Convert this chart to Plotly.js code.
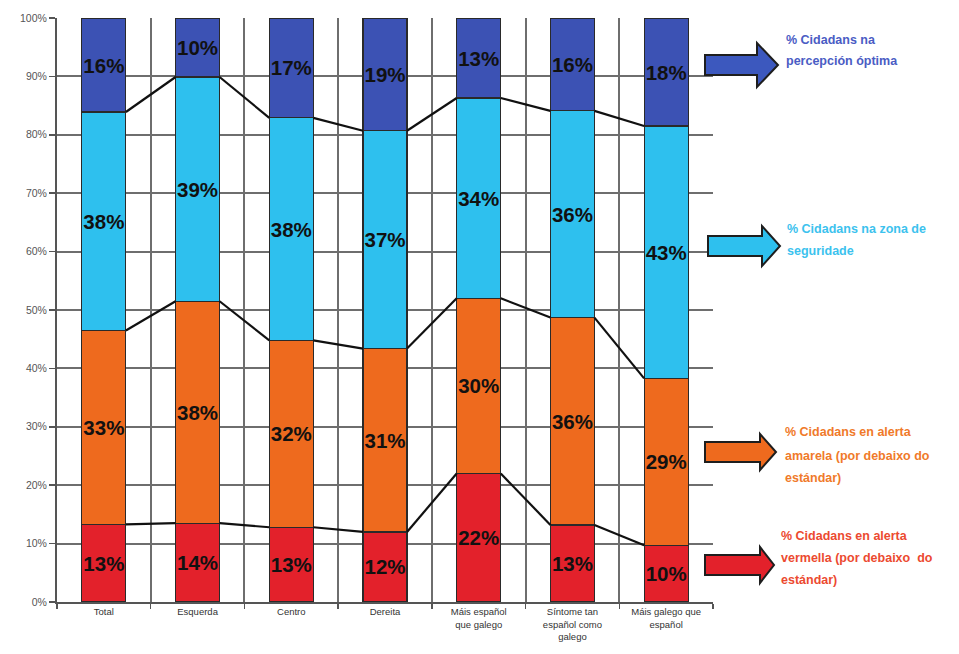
<!DOCTYPE html>
<html><head><meta charset="utf-8">
<script src="https://cdn.plot.ly/plotly-3.0.1.min.js"></script>
<style>html,body{margin:0;padding:0;background:#fff;}#chart{width:959px;height:654px;}</style>
</head><body><div id="chart"></div>
<script>
// ---- data ----
const categories = ["Total", "Esquerda", "Centro", "Dereita", "Máis español<br>que galego", "Síntome tan<br>español como<br>galego", "Máis galego que<br>español"];
const vermella   = [13.3, 13.5, 12.8, 12.0, 22.0, 13.2, 9.7];
const amarela    = [33.2, 38.0, 32.0, 31.4, 30.0, 35.5, 28.6];
const seguridade = [37.4, 38.4, 38.1, 37.3, 34.3, 35.4, 43.2];
const optima     = [16.1, 10.1, 17.1, 19.3, 13.7, 15.9, 18.5];
const vermellaLbl   = ["13%", "14%", "13%", "12%", "22%", "13%", "10%"];
const amarelaLbl    = ["33%", "38%", "32%", "31%", "30%", "36%", "29%"];
const seguridadeLbl = ["38%", "39%", "38%", "37%", "34%", "36%", "43%"];
const optimaLbl     = ["16%", "10%", "17%", "19%", "13%", "16%", "18%"];
const yTicks = [0, 10, 20, 30, 40, 50, 60, 70, 80, 90, 100];
const yTickLabels = ["0%", "10%", "20%", "30%", "40%", "50%", "60%", "70%", "80%", "90%", "100%"];

// ---- layout helpers ----
const W = 959, H = 654, L = 57, R = 713, T = 18, B = 602;
const px = x => (x - L) / (R - L);
const py = y => (B - y) / (B - T);
const BW = 0.47;
const xs = categories.map((_, i) => i);

function barTrace(vals, lbls, color) {
  return {
    type: 'bar', x: xs, y: vals, width: BW, text: lbls, texttemplate: '%{text}',
    textposition: 'inside', insidetextanchor: 'middle', constraintext: 'none', textangle: 0,
    textfont: {family: 'Liberation Sans, Arial, sans-serif', size: 20.5, color: '#111', weight: 'bold'},
    marker: {color: color, line: {color: '#2a2a2a', width: 1.2}},
    hoverinfo: 'skip', showlegend: false
  };
}
function cum(arrs) { return xs.map(i => arrs.reduce((s, a) => s + a[i], 0)); }
function connector(levels) {
  const x = [], y = [];
  for (let i = 0; i < levels.length - 1; i++) {
    x.push(i + BW / 2, i + 1 - BW / 2, null);
    y.push(levels[i], levels[i + 1], null);
  }
  return {type: 'scatter', mode: 'lines', x: x, y: y, line: {color: '#111', width: 2.2},
          hoverinfo: 'skip', showlegend: false, connectgaps: false};
}

const traces = [
  barTrace(vermella, vermellaLbl, '#e3212b'),
  barTrace(amarela, amarelaLbl, '#ee6a1e'),
  barTrace(seguridade, seguridadeLbl, '#2ec0ee'),
  barTrace(optima, optimaLbl, '#3c52b4'),
  connector(cum([vermella])),
  connector(cum([vermella, amarela])),
  connector(cum([vermella, amarela, seguridade]))
];

function arrow(x0, xb, xt, yc, bh, hh, color) {
  const p = [[x0, yc - bh / 2], [xb, yc - bh / 2], [xb, yc - hh / 2], [xt, yc], [xb, yc + hh / 2], [xb, yc + bh / 2], [x0, yc + bh / 2]];
  const d = 'M' + p.map(q => px(q[0]).toFixed(5) + ',' + py(q[1]).toFixed(5)).join(' L') + ' Z';
  return {type: 'path', xref: 'paper', yref: 'paper', path: d, fillcolor: color,
          line: {color: '#1e1e1e', width: 2}, layer: 'above'};
}
const shapes = [
  arrow(705, 757, 778, 65, 20, 44, '#3c58be'),
  arrow(708, 762, 780, 246, 20, 40, '#2ec0ee'),
  arrow(705, 760, 776, 452, 20, 36, '#ee6a1e'),
  arrow(705, 760, 774, 565, 20, 36, '#e3212b')
];

function note(text, x, y, color) {
  return {xref: 'paper', yref: 'paper', x: px(x), y: py(y), xanchor: 'left', yanchor: 'middle',
          text: text, showarrow: false,
          font: {family: 'Liberation Sans, Arial, sans-serif', size: 12.5, color: color, weight: 'bold'}};
}
const annotations = [
  note('% Cidadans na', 784, 40, '#4a5cc4'),
  note('percepción óptima', 784, 61, '#4a5cc4'),
  note('% Cidadans na zona de', 785, 229, '#3cc2ee'),
  note('seguridade', 785, 251, '#3cc2ee'),
  note('% Cidadans en alerta', 783, 432, '#f07a2a'),
  note('amarela (por debaixo do', 783, 456, '#f07a2a'),
  note('estándar)', 783, 478, '#f07a2a'),
  note('% Cidadans en alerta', 779, 536, '#ec4a30'),
  note('vermella (por debaixo  do', 779, 558, '#ec4a30'),
  note('estándar)', 779, 580, '#ec4a30')
];

const layout = {
  width: W, height: H,
  margin: {l: L, r: W - R, t: T, b: H - B, pad: 0},
  paper_bgcolor: '#fff', plot_bgcolor: '#fff',
  barmode: 'stack', bargap: 0.5,
  font: {family: 'Liberation Sans, Arial, sans-serif'},
  xaxis: {
    range: [-0.5, 6.5], tickmode: 'array', tickvals: xs, ticktext: categories,
    ticks: '', showgrid: false, zeroline: false,
    showline: true, linecolor: '#555', linewidth: 2,
    tickfont: {family: 'Liberation Sans Narrow, Arial Narrow, Liberation Sans, sans-serif', size: 9.5, color: '#333'},
    minor: {tick0: 0.5, dtick: 1, ticks: 'outside', ticklen: 5, tickcolor: '#555', tickwidth: 1.5,
            showgrid: true, gridcolor: '#6e6e6e', gridwidth: 2}
  },
  yaxis: {
    range: [0, 100], tickmode: 'array', tickvals: yTicks, ticktext: yTickLabels,
    ticks: 'outside', ticklen: 6, tickcolor: '#555', tickwidth: 1.5,
    showgrid: true, gridcolor: '#6e6e6e', gridwidth: 2, zeroline: false,
    showline: true, linecolor: '#555', linewidth: 2,
    tickfont: {family: 'Liberation Sans, Arial, sans-serif', size: 10.5, color: '#555'}
  },
  shapes: shapes, annotations: annotations
};

Plotly.newPlot('chart', traces, layout, {displayModeBar: false, staticPlot: true});
</script>
</body></html>
